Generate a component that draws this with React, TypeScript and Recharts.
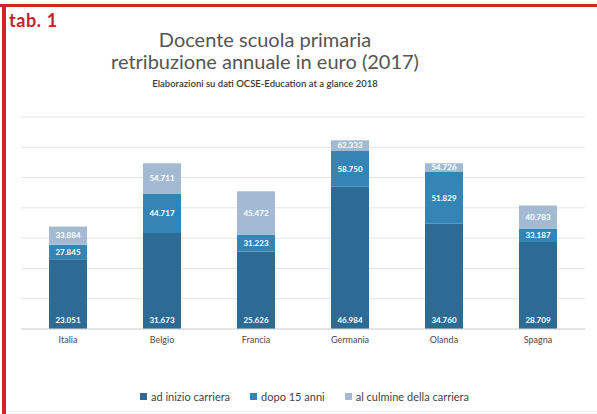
import React from 'react';
import {
  BarChart,
  Bar,
  XAxis,
  YAxis,
  CartesianGrid,
  LabelList,
} from 'recharts';

const paesi = ['Italia', 'Belgio', 'Francia', 'Germania', 'Olanda', 'Spagna'];
const inizioCarriera = [23051, 31673, 25626, 46984, 34760, 28709];
const dopo15Anni = [27845, 44717, 31223, 58750, 51829, 33187];
const culmineCarriera = [33884, 54711, 45472, 62333, 54726, 40783];
const yTicks = [0, 10000, 20000, 30000, 40000, 50000, 60000, 70000];

const serie = [
  { name: 'ad inizio carriera', color: '#2e6b94' },
  { name: 'dopo 15 anni', color: '#3484b6' },
  { name: 'al culmine della carriera', color: '#a3bbd2' },
];

const FONT = 'Lato, "Open Sans", sans-serif';
const RED = '#d2232a';

// bars are stacked on the differences, labels show the real values
const data = paesi.map((p, i) => ({
  paese: p,
  inizio: inizioCarriera[i],
  dopo: dopo15Anni[i],
  culmine: culmineCarriera[i],
  dopoDiff: dopo15Anni[i] - inizioCarriera[i],
  culmineDiff: culmineCarriera[i] - dopo15Anni[i],
}));

const fmt = (v: any) =>
  String(v).replace(/\B(?=(\d{3})+(?!\d))/g, '.');

const labelStyle = {
  fill: '#ffffff',
  fontSize: 8,
  fontWeight: 700,
  fontFamily: FONT,
};

const Legenda = () => (
  <div
    style={{
      position: 'absolute',
      top: 390,
      left: 0,
      width: 597,
      display: 'flex',
      justifyContent: 'center',
      paddingLeft: 12,
      boxSizing: 'border-box',
      gap: 20,
      fontFamily: FONT,
      fontSize: 11,
      color: '#444',
    }}
  >
    {serie.map((s) => (
      <div key={s.name} style={{ display: 'flex', alignItems: 'center', gap: 4 }}>
        <div style={{ width: 7, height: 7, background: s.color }} />
        <span>{s.name}</span>
      </div>
    ))}
  </div>
);

export default function App() {
  return (
    <div
      style={{
        position: 'absolute',
        left: 0,
        top: 0,
        width: 597,
        height: 414,
        background: '#fff',
        overflow: 'hidden',
      }}
    >
      <BarChart
        width={597}
        height={414}
        data={data}
        margin={{ top: 117, right: 12, left: 21, bottom: 55 }}
        barSize={38}
      >
        <CartesianGrid vertical={false} stroke="#e4e4e4" />
        <YAxis hide domain={[0, 70000]} ticks={yTicks} />
        <XAxis
          dataKey="paese"
          axisLine={{ stroke: '#d9d9d9' }}
          tickLine={false}
          tick={{ fill: '#4a4a4a', fontSize: 9, fontFamily: FONT }}
          tickMargin={2}
        />
        <Bar
          dataKey="inizio"
          stackId="a"
          fill={serie[0].color}
          isAnimationActive={false}
        >
          <LabelList
            dataKey="inizio"
            position="insideBottom"
            offset={6}
            formatter={fmt}
            style={labelStyle}
          />
        </Bar>
        <Bar
          dataKey="dopoDiff"
          stackId="a"
          fill={serie[1].color}
          isAnimationActive={false}
        >
          <LabelList
            dataKey="dopo"
            position="center"
            formatter={fmt}
            style={labelStyle}
          />
        </Bar>
        <Bar
          dataKey="culmineDiff"
          stackId="a"
          fill={serie[2].color}
          isAnimationActive={false}
        >
          <LabelList
            dataKey="culmine"
            position="center"
            formatter={fmt}
            style={labelStyle}
          />
        </Bar>
      </BarChart>

      {/* red frame of the original page */}
      <div style={{ position: 'absolute', left: 0, top: 4, width: 597, height: 3, background: RED }} />
      <div style={{ position: 'absolute', left: 2, top: 4, width: 4, height: 410, background: RED }} />
      <div style={{ position: 'absolute', left: 6, top: 411, width: 591, height: 1, background: '#ececec' }} />

      <svg
        width={597}
        height={120}
        style={{ position: 'absolute', left: 0, top: 0, pointerEvents: 'none' }}
      >
        <text x={9} y={27} fill="#c8202b" fontFamily={FONT} fontWeight={700} fontSize={18} letterSpacing={0.6}>
          tab. 1
        </text>
        <text x={265} y={47} textAnchor="middle" fill="#555" fontFamily={FONT} fontSize={20}>
          Docente scuola primaria
        </text>
        <text x={265} y={69} textAnchor="middle" fill="#555" fontFamily={FONT} fontSize={20}>
          retribuzione annuale in euro (2017)
        </text>
        <text x={265} y={87} textAnchor="middle" fill="#3a3a3a" fontFamily={FONT} fontWeight={600} fontSize={9.5}>
          Elaborazioni su dati OCSE-Education at a glance 2018
        </text>
      </svg>
      <Legenda />
    </div>
  );
}
